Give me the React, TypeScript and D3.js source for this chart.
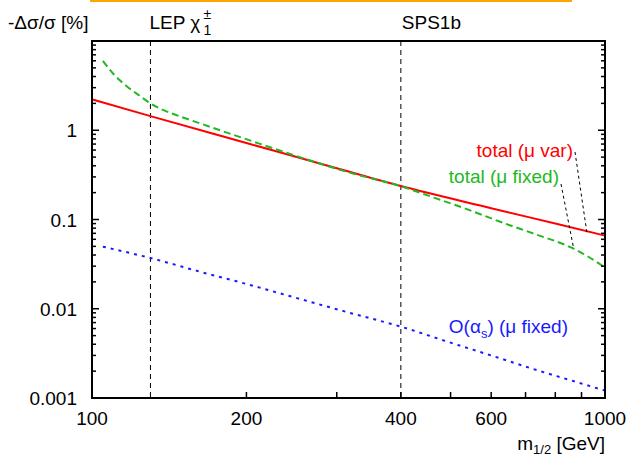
import React from "react";
import * as d3 from "d3";

const W = 633;
const H = 459;

// total (mu var) — red solid
const redMass = [100, 130, 200, 300, 400, 600, 800, 1000];
const redVals = [2.22, 1.44, 0.72, 0.375, 0.237, 0.134, 0.09, 0.066];

// total (mu fixed) — green dashed
const greenMass = [105, 110, 117, 124, 130, 136, 145, 162, 203, 254, 318, 400, 464, 541, 632, 736, 858, 930, 1000];
const greenVals = [6.0, 4.3, 3.1, 2.42, 2.0, 1.74, 1.5, 1.2, 0.77, 0.5, 0.335, 0.236, 0.176, 0.129, 0.092, 0.0676, 0.0487, 0.038, 0.029];

// O(alpha_s) (mu fixed) — blue dotted
const blueMass = [105, 130, 162, 203, 254, 318, 400, 498, 625, 725, 854, 1000];
const blueVals = [0.0496, 0.037, 0.0261, 0.0185, 0.0129, 0.009, 0.0063, 0.0042, 0.00278, 0.00211, 0.00159, 0.00121];

const xTickValues = [100, 200, 300, 400, 500, 600, 700, 800, 900, 1000];
const xTickLabels = [100, 200, 400, 600, 1000];
const yTickLabels = [0.001, 0.01, 0.1, 1];
const yLabelText = ["0.001", "0.01", "0.1", "1"];

const lepMass = 130;
const spsMass = 400;

const margin = { left: 92, right: 605, top: 41, bottom: 398 };

export default function App() {
  const x = d3.scaleLog().domain([100, 1000]).range([margin.left, margin.right]);
  const y = d3.scaleLog().domain([0.001, 10]).range([margin.bottom, margin.top]);

  const line = d3
    .line<[number, number]>()
    .x((d) => x(d[0]))
    .y((d) => y(d[1]))
    .curve(d3.curveMonotoneX);

  const zip = (a: number[], b: number[]) => a.map((v, i) => [v, b[i]] as [number, number]);

  const yMinor = y.ticks();
  const font = "'Liberation Sans', Arial, Helvetica, sans-serif";
  const fs = 19;

  const RED = "#ff0000";
  const GREEN = "#22b822";
  const BLUE = "#1a1aff";

  return (
    <div style={{ position: "fixed", left: 0, top: 0 }}>
      <svg width={W} height={H} style={{ display: "block", background: "#fff" }} fontFamily={font}>
        {/* orange bar at top */}
        <line x1={90} x2={572} y1={0.5} y2={0.5} stroke="#ffa500" strokeWidth={3} />

        {/* vertical reference lines */}
        {[lepMass, spsMass].map((m) => (
          <line
            key={m}
            x1={x(m)}
            x2={x(m)}
            y1={margin.top}
            y2={margin.bottom}
            stroke="#000"
            strokeWidth={1}
            strokeDasharray="5,4"
          />
        ))}

        {/* curves */}
        <path d={line(zip(blueMass, blueVals)) || ""} fill="none" stroke={BLUE} strokeWidth={2} strokeDasharray="3,5" />
        <path d={line(zip(redMass, redVals)) || ""} fill="none" stroke={RED} strokeWidth={2} />
        <path d={line(zip(greenMass, greenVals)) || ""} fill="none" stroke={GREEN} strokeWidth={2} strokeDasharray="7,4" />

        {/* leader lines */}
        <line x1={575} y1={152} x2={x(922)} y2={y(0.071)} stroke="#000" strokeWidth={1} strokeDasharray="3,3" />
        <line x1={561} y1={184} x2={x(869)} y2={y(0.047)} stroke="#000" strokeWidth={1} strokeDasharray="3,3" />

        {/* frame */}
        <rect
          x={margin.left}
          y={margin.top}
          width={margin.right - margin.left}
          height={margin.bottom - margin.top}
          fill="none"
          stroke="#000"
          strokeWidth={2}
        />

        {/* x ticks */}
        {xTickValues.map((v) => (
          <line key={v} x1={x(v)} x2={x(v)} y1={margin.bottom} y2={margin.bottom - 6} stroke="#000" strokeWidth={1.5} />
        ))}
        {xTickLabels.map((v) => (
          <text key={v} x={x(v)} y={margin.bottom + 27} textAnchor="middle" fontSize={fs} fill="#000">
            {v}
          </text>
        ))}

        {/* y ticks */}
        {yMinor.map((v) => {
          const major = Math.abs(Math.log10(v) - Math.round(Math.log10(v))) < 1e-6;
          const len = major ? 7 : 4;
          return (
            <g key={v}>
              <line x1={margin.left} x2={margin.left + len} y1={y(v)} y2={y(v)} stroke="#000" strokeWidth={1.5} />
              <line x1={margin.right} x2={margin.right - len} y1={y(v)} y2={y(v)} stroke="#000" strokeWidth={1.5} />
            </g>
          );
        })}
        {yTickLabels.map((v, i) => (
          <text key={v} x={77} y={y(v) + 7} textAnchor="end" fontSize={fs} fill="#000">
            {yLabelText[i]}
          </text>
        ))}

        {/* axis titles */}
        <text x={8} y={29} fontSize={fs} fill="#000">
          -Δσ/σ [%]
        </text>
        <text x={605} y={450} textAnchor="end" fontSize={fs} fill="#000">
          m<tspan fontSize={13} dy={4}>1/2</tspan>
          <tspan dy={-4}> [GeV]</tspan>
        </text>

        {/* region labels */}
        <text x={x(lepMass) - 1} y={29} fontSize={fs} fill="#000">
          LEP χ
        </text>
        <text x={x(lepMass) + 53} y={19} fontSize={14} fill="#000">
          ±
        </text>
        <text x={x(lepMass) + 53} y={35} fontSize={14} fill="#000">
          1
        </text>
        <text x={x(spsMass) + 1} y={29} fontSize={fs} fill="#000">
          SPS1b
        </text>

        {/* curve labels */}
        <text x={573} y={157} textAnchor="end" fontSize={fs} fill={RED}>
          total (μ var)
        </text>
        <text x={559} y={183} textAnchor="end" fontSize={fs} fill={GREEN}>
          total (μ fixed)
        </text>
        <text x={568} y={333} textAnchor="end" fontSize={fs} fill={BLUE}>
          O(α<tspan fontSize={13} dy={5}>s</tspan>
          <tspan dy={-5}>) (μ fixed)</tspan>
        </text>
      </svg>
    </div>
  );
}
